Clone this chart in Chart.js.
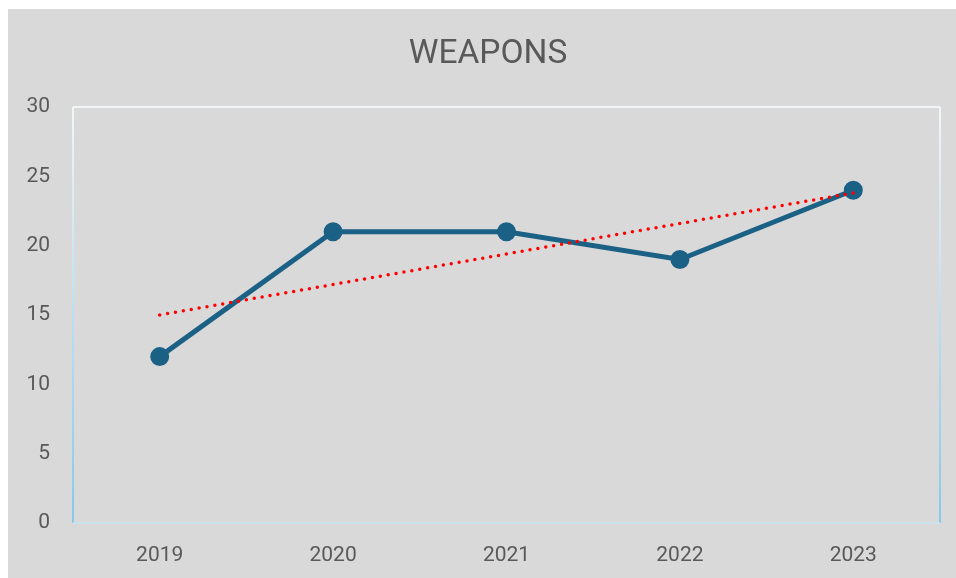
<!DOCTYPE html>
<html>
<head>
<meta charset="utf-8">
<script src="https://cdn.jsdelivr.net/npm/chart.js@4"></script>
<style>
  html, body { margin: 0; padding: 0; background: #ffffff; }
  #wrap { position: absolute; left: 8px; top: 9px; width: 948px; height: 569px; background: #d9d9d9; }
</style>
</head>
<body>
<div id="wrap"><canvas id="chart" width="948" height="569"></canvas></div>
<script>
// datos
const years = ['2019', '2020', '2021', '2022', '2023'];
const weapons = [12, 21, 21, 19, 24];
const trend = [15, 17.2, 19.4, 21.6, 23.8];   // linea de tendencia (punteada)
const yTicks = [0, 5, 10, 15, 20, 25, 30];
const titulo = 'WEAPONS';

const gris = '#595959';

// titulo centrado un poco a la derecha, como en el original
const tituloPlugin = {
  id: 'tituloPlugin',
  afterDraw(chart) {
    const ctx = chart.ctx;
    ctx.save();
    ctx.fillStyle = gris;
    ctx.font = '33.5px Roboto';
    ctx.textAlign = 'center';
    ctx.textBaseline = 'middle';
    ctx.fillText(titulo, 480, 46);
    ctx.restore();
  }
};

// borde del area del grafico con degradado
const bordePlot = {
  id: 'bordePlot',
  beforeDatasetsDraw(chart) {
    const { ctx, chartArea: a } = chart;
    ctx.save();
    ctx.lineWidth = 2;
    const g = ctx.createLinearGradient(0, a.top, 0, a.bottom);
    g.addColorStop(0, '#f2f6f8');
    g.addColorStop(1, '#86c8ec');
    ctx.strokeStyle = g;
    ctx.beginPath();
    ctx.moveTo(a.left, a.top); ctx.lineTo(a.left, a.bottom);
    ctx.moveTo(a.right, a.top); ctx.lineTo(a.right, a.bottom);
    ctx.stroke();
    ctx.strokeStyle = '#f2f5f7';
    ctx.beginPath(); ctx.moveTo(a.left, a.top); ctx.lineTo(a.right, a.top); ctx.stroke();
    ctx.strokeStyle = '#c9e2ee';
    ctx.beginPath(); ctx.moveTo(a.left, a.bottom); ctx.lineTo(a.right, a.bottom); ctx.stroke();
    ctx.restore();
  }
};

new Chart(document.getElementById('chart'), {
  type: 'line',
  data: {
    labels: years,
    datasets: [
      {
        label: titulo,
        data: weapons,
        borderColor: '#1b6185',
        backgroundColor: '#1b6185',
        borderWidth: 5,
        pointRadius: 7,
        pointHoverRadius: 7,
        order: 2
      },
      {
        label: 'Tendencia',
        data: trend,
        borderColor: '#ff0000',
        borderWidth: 3.5,
        borderDash: [0, 8],
        borderCapStyle: 'round',
        pointRadius: 0,
        order: 1
      }
    ]
  },
  options: {
    responsive: false,
    animation: false,
    layout: { padding: { top: 98, right: 16 } },
    plugins: {
      legend: { display: false },
      tooltip: { enabled: false },
      title: { display: false }
    },
    scales: {
      x: {
        offset: true,
        grid: { display: false },
        border: { display: false },
        ticks: { color: gris, font: { family: 'Roboto', size: 21 }, padding: 12 },
        afterFit(s) { s.height = 55; }
      },
      y: {
        min: 0,
        max: 30,
        grid: { display: false },
        border: { display: false },
        afterBuildTicks(s) { s.ticks = yTicks.map(v => ({ value: v })); },
        ticks: { color: gris, font: { family: 'Roboto', size: 21 }, padding: 15 },
        afterFit(s) { s.width = 65; }
      }
    }
  },
  plugins: [bordePlot, tituloPlugin]
});
</script>
</body>
</html>
